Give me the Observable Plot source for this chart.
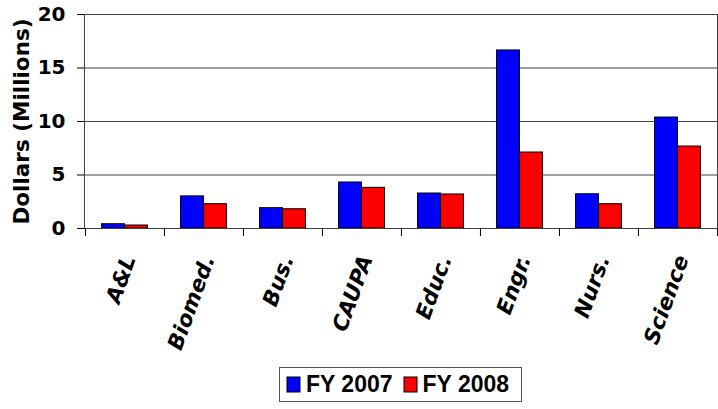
<!DOCTYPE html>
<html><head><meta charset="utf-8">
<script src="https://cdn.jsdelivr.net/npm/d3@7"></script>
<script src="https://cdn.jsdelivr.net/npm/@observablehq/plot@0.6"></script>
<style>
body{margin:0;background:#fff;}
#chart svg{display:block;background:#fff;}
.lg-swatches{font-family:"Liberation Sans",Arial,sans-serif;font-size:23px;font-weight:bold;color:#000;
  margin:5px 0 0 279px;width:243px;height:35px;min-height:0;box-sizing:border-box;border:1px solid #555;
  padding-left:7px;display:flex;flex-wrap:nowrap;align-items:center;white-space:nowrap;}
.lg-swatches .lg-swatch{margin-right:11px;}
.lg-swatches .lg-swatch:last-child{margin-right:0;}
.lg-swatches .lg-swatch > svg{margin-right:6px;}
.lg-swatch rect{stroke:#000;stroke-width:1;}
</style>
</head><body>
<div id="chart"></div>
<script>
const categories = ["A&L","Biomed.","Bus.","CAUPA","Educ.","Engr.","Nurs.","Science"];
const fy2007 = [0.4, 3.0, 1.9, 4.3, 3.27, 16.64, 3.2, 10.37];
const fy2008 = [0.28, 2.27, 1.8, 3.8, 3.18, 7.1, 2.27, 7.66];
const seriesNames = ["FY 2007","FY 2008"];
const yTicks = [0,5,10,15,20];
const yTitle = "Dollars (Millions)";

const rows07 = categories.map((c,i)=>({cat:c, value:fy2007[i], series:seriesNames[0]}));
const rows08 = categories.map((c,i)=>({cat:c, value:fy2008[i], series:seriesNames[1]}));

const W = 718, ML = 84, MR = 1;
const step = (W - ML - MR) / categories.length;
const barW = 23;
const outer = (step - 2*barW) / 2;

const plot = Plot.plot({
  width: W, height: 362,
  marginLeft: ML, marginRight: MR, marginTop: 14, marginBottom: 134,
  style: {fontFamily: "DejaVu Sans", color: "#000", background: "#fff"},
  x: {type: "band", domain: categories, padding: 0, axis: null},
  y: {domain: [0,20], axis: null},
  color: {domain: seriesNames, range: ["#0000ff","#ff0000"]},
  marks: [
    Plot.ruleY(yTicks.filter(d=>d>0), {stroke: "#404040", strokeWidth: 1}),
    Plot.barY(rows07, {x: "cat", y: "value", fill: "series", stroke: "#000", strokeWidth: 1, insetLeft: outer, insetRight: step - outer - barW}),
    Plot.barY(rows08, {x: "cat", y: "value", fill: "series", stroke: "#000", strokeWidth: 1, insetLeft: outer + barW, insetRight: outer}),
    Plot.frame({stroke: "#404040"}),
    Plot.axisY({ticks: yTicks, tickSize: 7, tickPadding: 12, fontSize: 20, fontWeight: "bold", fontFamily: "DejaVu Sans", label: null}),
    Plot.axisX({ticks: categories, tickSize: 8, tickFormat: () => "", dx: -step/2, label: null}),
    Plot.axisX({ticks: [categories[categories.length-1]], tickSize: 8, tickFormat: () => "", dx: step/2, label: null}),
    Plot.text(categories, {x: d=>d, frameAnchor: "bottom", dx: 11, dy: 30, rotate: -70, textAnchor: "end", lineAnchor: "bottom",
      fontSize: 21.5, fontWeight: "bold", fontStyle: "italic", fontFamily: "DejaVu Sans", fill: "#000"}),
    Plot.text([yTitle], {frameAnchor: "left", dx: -62, rotate: -90, textAnchor: "middle", fontSize: 21.5, fontWeight: "bold", fontFamily: "DejaVu Sans", fill: "#000"})
  ]
});
const chart = document.getElementById("chart");
chart.appendChild(plot);
const legend = plot.legend("color", {legend: "swatches", className: "lg", swatchWidth: 13, swatchHeight: 15});
chart.appendChild(legend);
</script>
</body></html>
